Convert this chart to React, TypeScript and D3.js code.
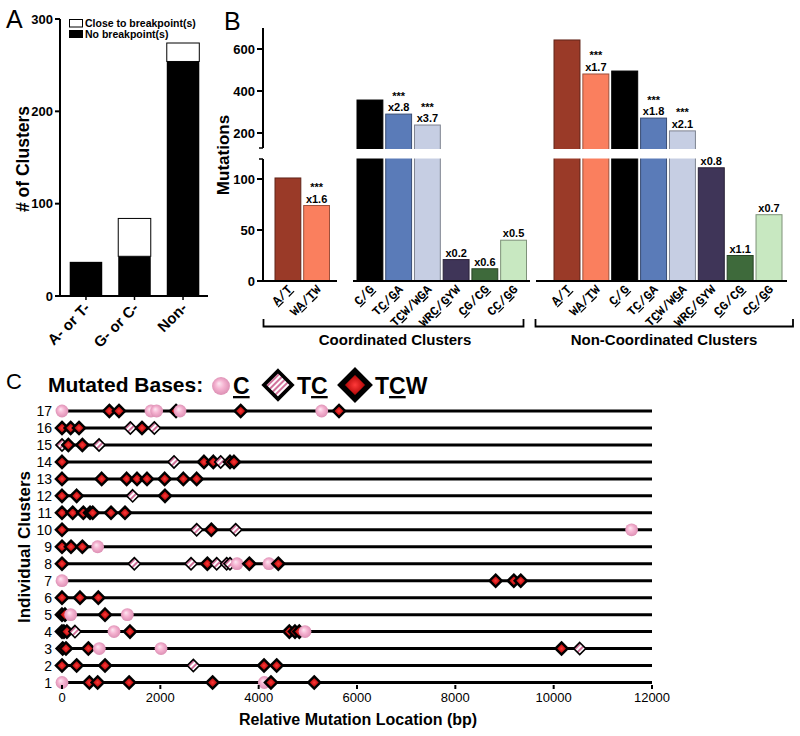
import React from "react";
import * as d3 from "d3";

// ---------- Panel A data ----------
const aCategories = ["A- or T-", "G- or C-", "Non-"];
const aNoBreakpoint = [37, 43, 254];
const aCloseBreakpoint = [0, 41, 20];
const aTicks = [0, 100, 200, 300];

// ---------- Panel B data ----------
const bCategories = ["A/T", "WA/TW", "C/G", "TC/GA", "TCW/WGA", "WRC/GYW", "CG/CG", "CC/GG"];
const bUnderlined = [[0, 2], [1, 3], [0, 2], [1, 3], [1, 5], [2, 4], [0, 4], [1, 3]];
const bColors = ["#9a3a28", "#fa7f5e", "#000000", "#5a7bb8", "#c6cee3", "#3f3558", "#3e6a3b", "#c8e8c1"];
const coordValues = [101, 74, 357, 290, 238, 21, 12, 40];
const coordFold = ["", "x1.6", "", "x2.8", "x3.7", "x0.2", "x0.6", "x0.5"];
const coordSignificant = [false, true, false, true, true, false, false, false];
const nonCoordValues = [643, 481, 495, 271, 210, 111, 25, 65];
const nonCoordFold = ["", "x1.7", "", "x1.8", "x2.1", "x0.8", "x1.1", "x0.7"];
const nonCoordSignificant = [false, true, false, true, true, false, false, false];
const bLowerTicks = [0, 50, 100];
const bUpperTicks = [200, 400, 600];
const bGroupLabels = ["Coordinated Clusters", "Non-Coordinated Clusters"];

// ---------- Panel C data ----------
const clusterIds = [1, 2, 3, 4, 5, 6, 7, 8, 9, 10, 11, 12, 13, 14, 15, 16, 17];
const clusterMutations: [number, string][][] = [
  [[0, "C"], [556, "TCW"], [725, "TCW"], [1365, "TCW"], [3063, "TCW"], [4115, "C"], [4250, "TCW"], [5130, "TCW"]],
  [[0, "TCW"], [298, "TCW"], [875, "TCW"], [2671, "TC"], [4109, "TCW"], [4366, "TCW"]],
  [[14, "TCW"], [81, "TCW"], [536, "TCW"], [759, "C"], [2014, "C"], [10160, "TCW"], [10530, "TC"]],
  [[0, "TCW"], [40, "TCW"], [100, "TCW"], [264, "TC"], [1058, "C"], [1383, "TCW"], [4624, "TCW"], [4739, "TCW"], [4827, "TCW"], [4943, "C"]],
  [[0, "TCW"], [61, "TCW"], [176, "C"], [875, "TCW"], [1329, "C"]],
  [[0, "TCW"], [366, "TCW"], [739, "TCW"]],
  [[0, "C"], [8820, "TCW"], [9190, "TCW"], [9330, "TCW"]],
  [[0, "TCW"], [1471, "TC"], [2624, "TC"], [2956, "TCW"], [3146, "TC"], [3349, "TC"], [3417, "TC"], [3560, "C"], [3810, "TCW"], [4210, "C"], [4400, "TCW"]],
  [[0, "TCW"], [183, "TCW"], [414, "TCW"], [725, "C"]],
  [[0, "TCW"], [2739, "TC"], [3037, "TCW"], [3532, "TC"], [11585, "C"]],
  [[0, "TCW"], [217, "TCW"], [434, "TCW"], [570, "TCW"], [624, "TCW"], [997, "TCW"], [1281, "TCW"]],
  [[0, "TCW"], [298, "TCW"], [1437, "TC"], [2095, "TCW"]],
  [[0, "TCW"], [807, "TCW"], [1315, "TCW"], [1526, "TCW"], [1729, "TCW"], [2088, "TCW"], [2468, "TCW"], [2739, "TCW"]],
  [[0, "TCW"], [2278, "TC"], [2888, "TCW"], [3078, "TCW"], [3227, "TC"], [3417, "TCW"], [3498, "TCW"]],
  [[0, "TC"], [129, "TCW"], [414, "TCW"], [753, "TC"]],
  [[0, "TCW"], [176, "TCW"], [346, "TCW"], [1390, "TC"], [1627, "TCW"], [1878, "TC"]],
  [[0, "C"], [963, "TCW"], [1159, "TCW"], [1810, "C"], [1925, "C"], [2319, "TCW"], [2400, "C"], [3634, "TCW"], [5282, "C"], [5634, "TCW"]],
];
const cTicks = [0, 2000, 4000, 6000, 8000, 10000, 12000];

const SANS = "Arial, 'Liberation Sans', sans-serif";
const MONO = "'Liberation Mono', 'DejaVu Sans Mono', monospace";

function UnderlinedLabel({ text, under, x, y, rotate, size, anchor, family }: any) {
  const chars = text.split("");
  return (
    <text
      transform={`translate(${x},${y}) rotate(${rotate})`}
      textAnchor={anchor}
      fontFamily={family}
      fontWeight="bold"
      fontSize={size}
    >
      {chars.map((c: string, i: number) => (
        <tspan key={i} textDecoration={under.includes(i) ? "underline" : "none"}>
          {c}
        </tspan>
      ))}
    </text>
  );
}

function Marker({ type, x, y, scale = 1 }: any) {
  if (type === "C") {
    return <circle cx={x} cy={y} r={6.4 * scale} fill="url(#pinkBall)" />;
  }
  const h = 6.1 * scale;
  const d = `M0,${-h}L${h},0L0,${h}L${-h},0Z`;
  if (type === "TC") {
    return (
      <g transform={`translate(${x},${y})`}>
        <path d={d} fill="url(#stripes)" stroke="#000" strokeWidth={1.6 * scale} />
      </g>
    );
  }
  return (
    <g transform={`translate(${x},${y})`}>
      <path d={d} fill="url(#redDiamond)" stroke="#000" strokeWidth={2.4 * scale} strokeLinejoin="miter" />
    </g>
  );
}

export default function App() {
  // ---------- Panel A scales ----------
  const aY = d3.scaleLinear().domain([0, 300]).range([296, 19]);
  const aX = d3.scaleBand().domain(aCategories).range([60, 209]).paddingInner(0.33).paddingOuter(0.2);

  // ---------- Panel B scales ----------
  const lower = d3.scaleLinear().domain([0, 100]).range([281, 179]);
  const upper = d3.scaleLinear().domain([200, 600]).range([133, 49]);
  const barTop = (v: number) => (v > 120 ? upper(v) : lower(v));
  const xC1 = d3.scaleBand().domain(bCategories.slice(0, 2)).range([275, 329.5]).paddingInner(0.1).paddingOuter(0);
  const xC2 = d3.scaleBand().domain(bCategories.slice(2)).range([357, 526.5]).paddingInner(0.1).paddingOuter(0);
  const xN = d3.scaleBand().domain(bCategories).range([554, 782]).paddingInner(0.1).paddingOuter(0);

  const coordBars = bCategories.map((c, i) => {
    const sc = i < 2 ? xC1 : xC2;
    return { c, i, x: sc(c) as number, w: sc.bandwidth(), v: coordValues[i], fold: coordFold[i], sig: coordSignificant[i] };
  });
  const nonBars = bCategories.map((c, i) => ({
    c, i, x: xN(c) as number, w: xN.bandwidth(), v: nonCoordValues[i], fold: nonCoordFold[i], sig: nonCoordSignificant[i],
  }));
  const allBars = [...coordBars, ...nonBars];

  // ---------- Panel C scales ----------
  const cX = d3.scaleLinear().domain([0, 12000]).range([62, 652]);
  const cY = d3.scaleLinear().domain([1, 17]).range([682.5, 411]);

  return (
    <svg width={800} height={736} style={{ position: "absolute", left: 0, top: 0, background: "#fff" }}>
      <defs>
        <radialGradient id="redDiamond" cx="50%" cy="50%" r="55%">
          <stop offset="0%" stopColor="#ff3a3a" />
          <stop offset="50%" stopColor="#c41212" />
          <stop offset="100%" stopColor="#550000" />
        </radialGradient>
        <radialGradient id="pinkBall" cx="50%" cy="50%" r="55%" fx="38%" fy="35%">
          <stop offset="0%" stopColor="#fde8f2" />
          <stop offset="45%" stopColor="#f5b3d1" />
          <stop offset="100%" stopColor="#d98bb0" />
        </radialGradient>
        <pattern id="stripes" patternUnits="userSpaceOnUse" width={4} height={4} patternTransform="rotate(45)">
          <rect width={4} height={4} fill="#fff" />
          <rect width={2} height={4} fill="#d2739c" />
        </pattern>
      </defs>

      {/* ================= Panel A ================= */}
      <text x={6} y={28} fontFamily={SANS} fontSize={25}>A</text>
      {aCategories.map((c, i) => {
        const x = aX(c) as number;
        const w = aX.bandwidth();
        return (
          <g key={c}>
            <rect x={x} y={aY(aNoBreakpoint[i])} width={w} height={aY(0) - aY(aNoBreakpoint[i])} fill="#000" />
            {aCloseBreakpoint[i] > 0 && (
              <rect
                x={x}
                y={aY(aNoBreakpoint[i] + aCloseBreakpoint[i])}
                width={w}
                height={aY(aNoBreakpoint[i]) - aY(aNoBreakpoint[i] + aCloseBreakpoint[i])}
                fill="#fff"
                stroke="#000"
                strokeWidth={1}
              />
            )}
            <line x1={x + w / 2} x2={x + w / 2} y1={296} y2={300} stroke="#000" strokeWidth={1.5} />
            <text
              transform={`translate(${x + w / 2 - 3},${301}) rotate(-45)`}
              textAnchor="end"
              dominantBaseline="hanging"
              fontFamily={SANS}
              fontWeight="bold"
              fontSize={15}
            >
              {c}
            </text>
          </g>
        );
      })}
      <line x1={60} x2={60} y1={19} y2={296} stroke="#000" strokeWidth={2} />
      <line x1={59} x2={208} y1={296} y2={296} stroke="#000" strokeWidth={2} />
      {aTicks.map((t) => (
        <g key={t}>
          <line x1={55} x2={60} y1={aY(t)} y2={aY(t)} stroke="#000" strokeWidth={2} />
          <text x={53} y={aY(t) + 4.5} textAnchor="end" fontFamily={SANS} fontWeight="bold" fontSize={13}>{t}</text>
        </g>
      ))}
      <text transform="translate(29,159) rotate(-90)" textAnchor="middle" fontFamily={SANS} fontWeight="bold" fontSize={17.5}># of Clusters</text>
      {/* legend */}
      <rect x={69.5} y={19.5} width={13} height={7.5} fill="#fff" stroke="#000" strokeWidth={1} />
      <text x={85} y={27} fontFamily={SANS} fontWeight="bold" fontSize={10.5}>Close to breakpoint(s)</text>
      <rect x={69} y={30} width={14} height={8} fill="#000" />
      <text x={85} y={38} fontFamily={SANS} fontWeight="bold" fontSize={10.5}>No breakpoint(s)</text>

      {/* ================= Panel B ================= */}
      <text x={224} y={30} fontFamily={SANS} fontSize={25}>B</text>
      {allBars.map((b, k) => (
        <rect
          key={k}
          x={b.x}
          y={barTop(b.v)}
          width={b.w}
          height={lower(0) - barTop(b.v)}
          fill={bColors[b.i]}
          stroke={d3.color(bColors[b.i])!.darker(1.3).formatHex()}
          strokeWidth={1}
        />
      ))}
      {/* axis break band */}
      <rect x={262} y={149} width={530} height={9.5} fill="#fff" />
      {allBars.map((b, k) => (
        <g key={"ann" + k} fontFamily={SANS} fontWeight="bold" textAnchor="middle">
          {b.fold && (
            <text x={b.x + b.w / 2} y={barTop(b.v) - 3} fontSize={11}>{b.fold}</text>
          )}
          {b.sig && (
            <text x={b.x + b.w / 2} y={barTop(b.v) - 14.5} fontSize={11}>***</text>
          )}
        </g>
      ))}
      {/* y axis */}
      <line x1={263} x2={263} y1={28} y2={148} stroke="#000" strokeWidth={2} />
      <line x1={263} x2={263} y1={159} y2={282} stroke="#000" strokeWidth={2} />
      <line x1={259} x2={263} y1={148} y2={148} stroke="#000" strokeWidth={1.5} />
      <line x1={259} x2={263} y1={159} y2={159} stroke="#000" strokeWidth={1.5} />
      {bUpperTicks.map((t) => (
        <g key={t}>
          <line x1={257} x2={263} y1={upper(t)} y2={upper(t)} stroke="#000" strokeWidth={2} />
          <text x={255} y={upper(t) + 4.5} textAnchor="end" fontFamily={SANS} fontWeight="bold" fontSize={13}>{t}</text>
        </g>
      ))}
      {bLowerTicks.map((t) => (
        <g key={t}>
          <line x1={257} x2={263} y1={lower(t)} y2={lower(t)} stroke="#000" strokeWidth={2} />
          <text x={255} y={lower(t) + 4.5} textAnchor="end" fontFamily={SANS} fontWeight="bold" fontSize={13}>{t}</text>
        </g>
      ))}
      <text transform="translate(229,155) rotate(-90)" textAnchor="middle" fontFamily={SANS} fontWeight="bold" fontSize={17}>Mutations</text>
      {/* baselines */}
      <line x1={262} x2={337} y1={281} y2={281} stroke="#000" strokeWidth={2} />
      <line x1={353} x2={530} y1={281} y2={281} stroke="#000" strokeWidth={2} />
      <line x1={536} x2={787} y1={281} y2={281} stroke="#000" strokeWidth={2} />
      {/* category labels */}
      {allBars.map((b, k) => (
        <UnderlinedLabel
          key={"lab" + k}
          text={b.c}
          under={bUnderlined[b.i]}
          x={b.x + b.w / 2 + 5}
          y={290}
          rotate={-45}
          size={12.5}
          anchor="end"
          family={MONO}
        />
      ))}
      {/* group brackets */}
      <path d="M263.5,319V326.5H523.5V319" fill="none" stroke="#000" strokeWidth={1.8} />
      <path d="M535.5,319V326.5H793V319" fill="none" stroke="#000" strokeWidth={1.8} />
      <text x={395} y={345} textAnchor="middle" fontFamily={SANS} fontWeight="bold" fontSize={15}>{bGroupLabels[0]}</text>
      <text x={664} y={345} textAnchor="middle" fontFamily={SANS} fontWeight="bold" fontSize={15}>{bGroupLabels[1]}</text>

      {/* ================= Panel C ================= */}
      <text x={6} y={389} fontFamily={SANS} fontSize={22}>C</text>
      <text x={48} y={392} fontFamily={SANS} fontWeight="bold" fontSize={21}>Mutated Bases:</text>
      <Marker type="C" x={221} y={386} scale={1.4} />
      <text x={233} y={394} fontFamily={SANS} fontWeight="bold" fontSize={23}>
        <tspan textDecoration="underline">C</tspan>
      </text>
      <Marker type="TC" x={278} y={385} scale={2.3} />
      <text x={297} y={394} fontFamily={SANS} fontWeight="bold" fontSize={23}>
        T<tspan textDecoration="underline">C</tspan>
      </text>
      <Marker type="TCW" x={355} y={385} scale={2.3} />
      <text x={375} y={394} fontFamily={SANS} fontWeight="bold" fontSize={23}>
        T<tspan textDecoration="underline">C</tspan>W
      </text>

      {clusterIds.map((id) => (
        <g key={id}>
          <line x1={cX(0)} x2={cX(12000)} y1={cY(id)} y2={cY(id)} stroke="#000" strokeWidth={3} />
          <text x={52} y={cY(id) + 5} textAnchor="end" fontFamily={SANS} fontSize={14}>{id}</text>
        </g>
      ))}
      {clusterIds.map((id, r) => (
        <g key={"m" + id}>
          {clusterMutations[r].map(([pos, type], k) => (
            <Marker key={k} type={type} x={cX(pos)} y={cY(id)} />
          ))}
        </g>
      ))}
      {cTicks.map((t) => (
        <g key={t}>
          <line x1={cX(t)} x2={cX(t)} y1={685} y2={689} stroke="#000" strokeWidth={2} />
          <text x={cX(t)} y={702} textAnchor="middle" fontFamily={SANS} fontSize={13}>{t}</text>
        </g>
      ))}
      <text transform="translate(30,547) rotate(-90)" textAnchor="middle" fontFamily={SANS} fontWeight="bold" fontSize={17}>Individual Clusters</text>
      <text x={358} y={725} textAnchor="middle" fontFamily={SANS} fontWeight="bold" fontSize={16}>Relative Mutation Location (bp)</text>
    </svg>
  );
}
